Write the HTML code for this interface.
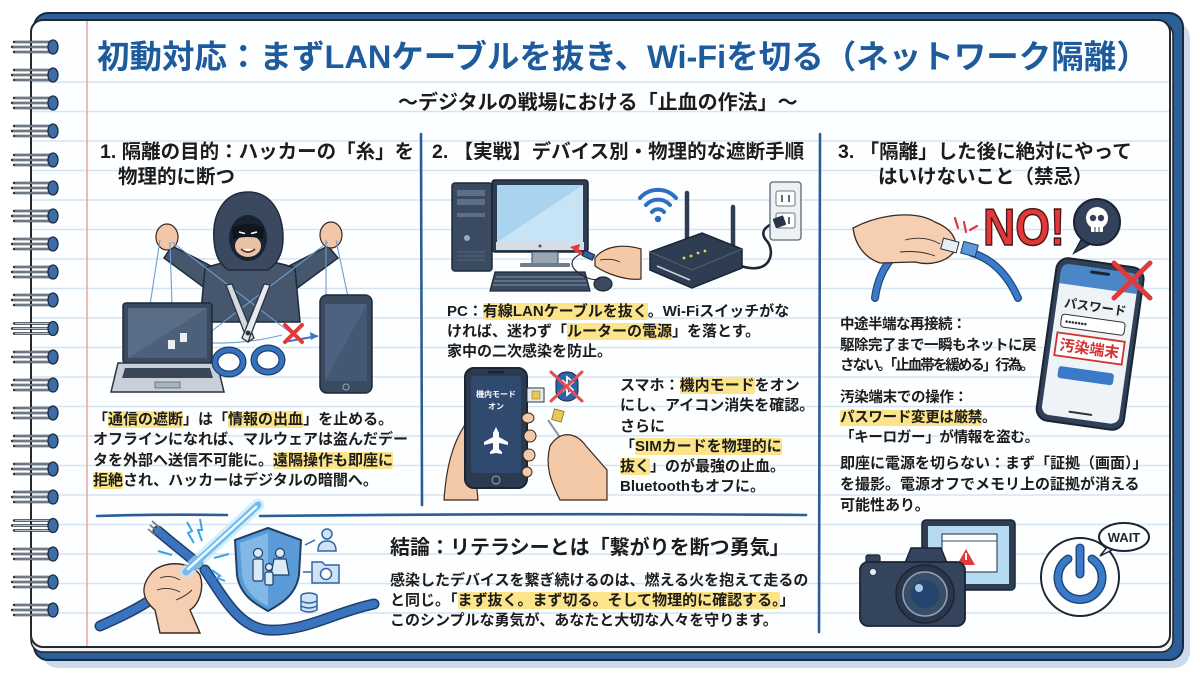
<!DOCTYPE html>
<html><head><meta charset="utf-8">
<style>
html,body{margin:0;padding:0;background:#fff;}
#w{position:relative;width:1200px;height:675px;overflow:hidden;background:#fff;}
svg{position:absolute;left:0;top:0;}
.t{position:absolute;white-space:nowrap;font-family:"Liberation Sans","Noto Sans CJK JP",sans-serif;font-weight:700;color:#1c1c1c;}
.h{background:#fbe48a;border-radius:2px;}
</style></head><body><div id="w">
<svg width="1200" height="675" viewBox="0 0 1200 675" xmlns="http://www.w3.org/2000/svg">
<defs>
 <g id="ring">
  <path d="M14 -5 H50 M12 0 H50 M14 5 H50" stroke="#2a3340" stroke-width="2.4" stroke-linecap="round" fill="none"/>
  <path d="M15 -5 H49 M13 0 H49 M15 5 H49" stroke="#b4bfcc" stroke-width="0.9" fill="none"/>
  <ellipse cx="53" cy="0" rx="5" ry="7" fill="#3d6ca6" stroke="#1c2b40" stroke-width="1.3"/>
 </g>
</defs>
<!-- frame -->
<rect x="42" y="22" width="1148" height="646" rx="16" fill="#cddbe9"/>
<rect x="34" y="13" width="1149" height="647" rx="14" fill="#2c5e98" stroke="#172a44" stroke-width="2"/>
<rect x="31" y="23" width="1142" height="629" rx="12" fill="#eef2f7" stroke="#222" stroke-width="1.5"/>
<rect x="31" y="20" width="1139" height="627" rx="12" fill="#fdfeff" stroke="#23272e" stroke-width="2"/>
<!-- ruled lines -->
<g stroke="#d5e4f1" stroke-width="1.5">
 <line x1="32" x2="1169" y1="82" y2="82"/><line x1="32" x2="1169" y1="111.5" y2="111.5"/>
 <line x1="32" x2="1169" y1="141" y2="141"/><line x1="32" x2="1169" y1="170.5" y2="170.5"/>
 <line x1="32" x2="1169" y1="200" y2="200"/><line x1="32" x2="1169" y1="229.5" y2="229.5"/>
 <line x1="32" x2="1169" y1="259" y2="259"/><line x1="32" x2="1169" y1="288.5" y2="288.5"/>
 <line x1="32" x2="1169" y1="318" y2="318"/><line x1="32" x2="1169" y1="347.5" y2="347.5"/>
 <line x1="32" x2="1169" y1="377" y2="377"/><line x1="32" x2="1169" y1="406.5" y2="406.5"/>
 <line x1="32" x2="1169" y1="436" y2="436"/><line x1="32" x2="1169" y1="465.5" y2="465.5"/>
 <line x1="32" x2="1169" y1="495" y2="495"/><line x1="32" x2="1169" y1="524.5" y2="524.5"/>
 <line x1="32" x2="1169" y1="554" y2="554"/><line x1="32" x2="1169" y1="583.5" y2="583.5"/>
 <line x1="32" x2="1169" y1="613" y2="613"/>
</g>
<line x1="87" y1="21" x2="87" y2="646" stroke="#eaa3a3" stroke-width="1.5"/>
<!-- rings -->
<use href="#ring" transform="translate(0,47)"/><use href="#ring" transform="translate(0,75)"/>
<use href="#ring" transform="translate(0,103)"/><use href="#ring" transform="translate(0,131)"/>
<use href="#ring" transform="translate(0,160)"/><use href="#ring" transform="translate(0,188)"/>
<use href="#ring" transform="translate(0,216)"/><use href="#ring" transform="translate(0,244)"/>
<use href="#ring" transform="translate(0,272)"/><use href="#ring" transform="translate(0,300)"/>
<use href="#ring" transform="translate(0,328.5)"/><use href="#ring" transform="translate(0,357)"/>
<use href="#ring" transform="translate(0,385)"/><use href="#ring" transform="translate(0,413)"/>
<use href="#ring" transform="translate(0,441)"/><use href="#ring" transform="translate(0,469)"/>
<use href="#ring" transform="translate(0,497)"/><use href="#ring" transform="translate(0,525.5)"/>
<use href="#ring" transform="translate(0,554)"/><use href="#ring" transform="translate(0,582)"/>
<use href="#ring" transform="translate(0,610)"/>

<!-- dividers -->
<g stroke="#2b5d96" stroke-width="2.6" fill="none" stroke-linecap="round">
 <path d="M421 134 Q422 320 422 505"/>
 <path d="M820 134 Q819 380 819 632"/>
 <path d="M97 516 Q160 514 227 515"/>
 <path d="M260 516 Q530 513 806 515"/>
</g>

<!-- ===== Section 1: hacker ===== -->
<path d="M215 268 L172 246 L164 258 L210 292 Z" fill="#46566d" stroke="#1f2a3a" stroke-width="1.5"/>
<path d="M285 268 L328 246 L338 258 L292 292 Z" fill="#46566d" stroke="#1f2a3a" stroke-width="1.5"/>
<path d="M205 268 Q250 252 295 268 L300 322 L200 322 Z" fill="#46566d" stroke="#1f2a3a" stroke-width="1.5"/>
<path d="M248 192 C224 192 212 214 214 240 C215 256 220 264 228 270 L268 270 C277 264 283 254 283 238 C283 214 272 192 248 192 Z" fill="#3a4860" stroke="#1f2a3a" stroke-width="1.5"/>
<ellipse cx="248" cy="238" rx="19" ry="23" fill="#1a2332"/>
<ellipse cx="248" cy="246" rx="13" ry="11" fill="#e8c2a4"/>
<path d="M232 227 Q248 221 264 227 L263 239 Q248 235 233 239 Z" fill="#10151f"/>
<path d="M239 232 l6 1.5 M251 233.5 l6 -1.5" stroke="#fff" stroke-width="1.6"/>
<path d="M241 249 Q248 255 255 249" stroke="#5a2a20" stroke-width="1.6" fill="#fff"/>
<ellipse cx="167" cy="237" rx="11" ry="13" fill="#f1c7a8" stroke="#3a2a20" stroke-width="1.2"/>
<ellipse cx="331" cy="235" rx="11" ry="13" fill="#f1c7a8" stroke="#3a2a20" stroke-width="1.2"/>
<g stroke="#6d9fd0" stroke-width="1.1" fill="none">
 <path d="M160 240 L150 305"/><path d="M170 242 L172 305"/>
 <path d="M172 242 L300 340"/><path d="M326 240 L326 297"/>
 <path d="M336 240 L348 297"/><path d="M328 242 L200 340"/>
 <path d="M190 342 Q240 346 282 335"/>
</g>
<!-- laptop -->
<rect x="123" y="303" width="89" height="60" rx="3" fill="#3a4a60" stroke="#1e2837" stroke-width="1.5"/>
<rect x="128" y="308" width="79" height="50" fill="#5a6d86"/>
<path d="M128 358 L207 308 L207 358 Z" fill="#4d607a"/>
<rect x="168" y="340" width="7" height="9" fill="#e8eef4"/><rect x="180" y="333" width="7" height="9" fill="#e8eef4"/>
<path d="M118 363 L217 363 L224 392 L111 392 Z" fill="#c8cfd8" stroke="#2a3340" stroke-width="1.5"/>
<path d="M125 368 L210 368 L213 378 L122 378 Z" fill="#3a4658"/>
<rect x="155" y="382" width="25" height="6" fill="#aab3bf" stroke="#5a6474" stroke-width="0.8"/>
<!-- phone -->
<rect x="320" y="295" width="52" height="98" rx="7" fill="#3a4a60" stroke="#1e2837" stroke-width="1.5"/>
<rect x="325" y="304" width="42" height="77" rx="2" fill="#4d6280"/>
<path d="M325 381 L367 304 L367 381 Z" fill="#445873"/>
<circle cx="346" cy="387" r="3" fill="none" stroke="#9aa8ba" stroke-width="1"/>
<!-- scissors -->
<path d="M226 285 L232 284 L254 338 L248 342 Z" fill="#d3d9e0" stroke="#2a3340" stroke-width="1.3"/>
<path d="M270 285 L264 284 L242 338 L248 342 Z" fill="#e6eaef" stroke="#2a3340" stroke-width="1.3"/>
<circle cx="248" cy="333" r="2.5" fill="#2a3340"/>
<ellipse cx="229" cy="362" rx="14" ry="12" fill="none" stroke="#1f3e6a" stroke-width="7"/>
<ellipse cx="229" cy="362" rx="14" ry="12" fill="none" stroke="#3572bd" stroke-width="4.5"/>
<ellipse cx="268" cy="360" rx="14" ry="12" fill="none" stroke="#1f3e6a" stroke-width="7"/>
<ellipse cx="268" cy="360" rx="14" ry="12" fill="none" stroke="#3572bd" stroke-width="4.5"/>
<path d="M284 342 L318 336" stroke="#3a78c2" stroke-width="2" fill="none"/>
<path d="M318 336 L310 332 L311 340 Z" fill="#3a78c2"/>
<path d="M285 325 L302 342 M302 325 L285 342" stroke="#e03a3a" stroke-width="4" stroke-linecap="round"/>

<!-- ===== Section 2: PC ===== -->
<rect x="452" y="183" width="40" height="88" rx="3" fill="#3a4a60" stroke="#1e2837" stroke-width="1.5"/>
<rect x="457" y="190" width="28" height="6" fill="#5d6e86"/><rect x="457" y="199" width="28" height="6" fill="#5d6e86"/>
<rect x="457" y="213" width="28" height="4" fill="#5d6e86"/><circle cx="467" cy="238" r="3" fill="#9aabc0"/>
<g stroke="#56677f" stroke-width="1"><line x1="457" y1="252" x2="485" y2="252"/><line x1="457" y1="256" x2="485" y2="256"/><line x1="457" y1="260" x2="485" y2="260"/></g>
<rect x="492" y="180" width="96" height="72" rx="3" fill="#2f3d52" stroke="#1a2433" stroke-width="1.5"/>
<rect x="497" y="185" width="86" height="57" fill="#a9d3ef"/>
<path d="M497 242 L583 185 L583 242 Z" fill="#c6e4f6"/>
<rect x="496" y="242" width="88" height="8" fill="#d6dde5"/><circle cx="540" cy="246" r="1.5" fill="#555"/>
<rect x="532" y="252" width="26" height="12" fill="#9aa5b2" stroke="#3a4658" stroke-width="1"/>
<rect x="520" y="263" width="50" height="4" rx="1" fill="#6f7c8c"/>
<path d="M495 272 L585 272 L590 291 L490 291 Z" fill="#3a4a60" stroke="#1e2837" stroke-width="1.2"/>
<g stroke="#8795a8" stroke-width="1"><line x1="496" y1="277" x2="584" y2="277"/><line x1="494" y1="281" x2="586" y2="281"/><line x1="493" y1="285" x2="587" y2="285"/></g>
<ellipse cx="603" cy="284" rx="9" ry="7" fill="#3a4a60" stroke="#1e2837" stroke-width="1.2"/>
<path d="M585 252 Q560 262 583 276 Q595 282 600 278" stroke="#1e2837" stroke-width="1.2" fill="none"/>
<path d="M590 258 L575 250" stroke="#e23b3b" stroke-width="3"/>
<path d="M570 247 L580 244 L578 253 Z" fill="#e23b3b"/>
<rect x="583" y="252" width="11" height="6" transform="rotate(25 588 255)" fill="#2f64a8" stroke="#1a2433" stroke-width="1"/>
<path d="M595 258 C605 245 625 244 641 249 L641 279 C625 281 605 273 595 266 Z" fill="#f4c9a8" stroke="#3a2a20" stroke-width="1.2"/>
<path d="M600 260 Q612 258 620 262" stroke="#3a2a20" stroke-width="0.8" fill="none"/>
<!-- wifi -->
<g stroke="#2e6fbf" stroke-width="4" fill="none" stroke-linecap="round">
 <path d="M652 212 A8 8 0 0 1 664 212"/>
 <path d="M646 205 A16 16 0 0 1 670 205"/>
 <path d="M640 198 A24 24 0 0 1 676 198"/>
</g>
<circle cx="658" cy="219" r="3.2" fill="#2e6fbf"/>
<!-- router -->
<line x1="687" y1="193" x2="687" y2="242" stroke="#2f3d52" stroke-width="4.5" stroke-linecap="round"/>
<line x1="733" y1="207" x2="733" y2="248" stroke="#2f3d52" stroke-width="4.5" stroke-linecap="round"/>
<path d="M650 252 L702 233 L742 249 L742 268 L692 288 L650 270 Z" fill="#2f3d52" stroke="#1a2433" stroke-width="1.5"/>
<path d="M650 252 L692 270 L742 249" stroke="#4d5e76" stroke-width="1.2" fill="none"/>
<path d="M657 266 L690 280" stroke="#c9d4e0" stroke-width="1.5"/>
<g fill="#f2d35a"><circle cx="684" cy="258" r="1.4"/><circle cx="691" cy="256" r="1.4"/><circle cx="698" cy="253" r="1.4"/><circle cx="705" cy="251" r="1.4"/></g>
<path d="M741 266 C772 276 776 250 766 240 C758 230 770 223 778 223" stroke="#1d2836" stroke-width="2.6" fill="none"/>
<rect x="770" y="182" width="31" height="58" rx="3" fill="#eef1f4" stroke="#5a6878" stroke-width="1.3"/>
<rect x="776" y="191" width="19" height="15" rx="2" fill="#fff" stroke="#6a7888"/>
<rect x="776" y="213" width="19" height="15" rx="2" fill="#fff" stroke="#6a7888"/>
<g stroke="#333" stroke-width="1.5"><line x1="782" y1="195" x2="782" y2="202"/><line x1="789" y1="195" x2="789" y2="202"/><line x1="782" y1="217" x2="782" y2="224"/><line x1="789" y1="217" x2="789" y2="224"/></g>
<rect x="774" y="217" width="11" height="10" rx="1" fill="#2a3648" transform="rotate(-20 779 222)"/>

<!-- ===== Section 2: smartphone ===== -->
<path d="M444 500 C446 470 452 440 470 418 L478 500 Z" fill="#f4c9a8" stroke="#3a2a20" stroke-width="1.2"/>
<rect x="465" y="368" width="62" height="120" rx="9" fill="#2c3a50" stroke="#1a2433" stroke-width="2"/>
<rect x="471" y="376" width="50" height="97" rx="4" fill="#2f4a6e"/>
<rect x="488" y="371" width="16" height="2.5" rx="1" fill="#1a2433"/>
<text x="496" y="397" font-size="8" fill="#fff" text-anchor="middle" font-family="Liberation Sans,Noto Sans CJK JP,sans-serif" font-weight="700">機内モード</text>
<text x="496" y="409" font-size="8" fill="#fff" text-anchor="middle" font-family="Liberation Sans,Noto Sans CJK JP,sans-serif" font-weight="700">オン</text>
<path d="M496 427 L499 433 L499 437 L508 442 L508 445 L499 443 L499 449 L502 452 L502 454 L496 453 L490 454 L490 452 L493 449 L493 443 L484 445 L484 442 L493 437 L493 433 Z" fill="#fff"/>
<circle cx="496" cy="480" r="4" fill="none" stroke="#8a9ab0" stroke-width="1.2"/>
<g fill="#f4c9a8" stroke="#3a2a20" stroke-width="1"><ellipse cx="528" cy="418" rx="6" ry="5"/><ellipse cx="530" cy="436" rx="6" ry="6"/><ellipse cx="529" cy="455" rx="6" ry="6"/><ellipse cx="527" cy="472" rx="5" ry="5"/></g>
<rect x="527" y="388" width="17" height="14" fill="#e8ecf0" stroke="#2a3340" stroke-width="1"/>
<rect x="532" y="391" width="8" height="8" fill="#e6c85a" stroke="#8a7020" stroke-width="0.6"/>
<rect x="556" y="372" width="22" height="29" rx="10" fill="#2b63b0" stroke="#1a2433" stroke-width="1"/>
<path d="M562 380 L573 390 L567 395 L567 377 L573 382 L562 392" stroke="#fff" stroke-width="1.8" fill="none"/>
<path d="M551 372 L582 401 M582 372 L551 401" stroke="#e05050" stroke-width="3" stroke-linecap="round"/>
<rect x="553" y="410" width="10" height="11" fill="#e6c85a" stroke="#8a7020" stroke-width="0.8" transform="rotate(15 558 415)"/>
<path d="M548 420 L566 446" stroke="#8a94a0" stroke-width="2"/>
<path d="M550 446 C560 430 576 432 586 446 L607 470 L607 500 L560 500 C550 480 545 465 550 446 Z" fill="#f4c9a8" stroke="#3a2a20" stroke-width="1.2"/>

<!-- ===== Section 3 ===== -->
<path d="M875 298 Q880 260 912 242 L948 247" stroke="#1f4a80" stroke-width="8" fill="none" stroke-linecap="round"/>
<path d="M875 298 Q880 260 912 242 L948 247" stroke="#3a7ac8" stroke-width="5.5" fill="none" stroke-linecap="round"/>
<path d="M853 228 C880 214 915 210 935 222 C950 228 958 238 955 250 C948 262 930 266 915 262 L880 263 C865 258 855 245 853 228 Z" fill="#f6cfb2" stroke="#3a2a20" stroke-width="1.3"/>
<path d="M905 240 Q925 235 940 244 M900 252 Q920 250 935 256" stroke="#3a2a20" stroke-width="0.9" fill="none"/>
<rect x="942" y="240" width="16" height="11" fill="#e8eef4" stroke="#2a3340" stroke-width="1" transform="rotate(15 950 245)"/>
<path d="M972 253 Q1002 262 1018 298" stroke="#1f4a80" stroke-width="8" fill="none" stroke-linecap="round"/>
<path d="M972 253 Q1002 262 1018 298" stroke="#3a7ac8" stroke-width="5.5" fill="none" stroke-linecap="round"/>
<rect x="962" y="243" width="15" height="12" fill="#5a9ad6" stroke="#1f3e6a" stroke-width="1" transform="rotate(15 969 249)"/>
<g stroke="#e03a3a" stroke-width="2.2" stroke-linecap="round"><line x1="955" y1="218" x2="958" y2="228"/><line x1="964" y1="222" x2="966" y2="232"/><line x1="970" y1="230" x2="977" y2="226"/></g>
<text x="983" y="245" font-size="52" font-weight="700" fill="#e2383a" stroke="#4a1515" stroke-width="1.5" textLength="82" lengthAdjust="spacingAndGlyphs" font-family="Liberation Sans,sans-serif">NO!</text>
<path d="M1082 238 L1074 253 L1092 243 Z" fill="#33425a" stroke="#1a2433" stroke-width="1.5"/>
<circle cx="1097" cy="222" r="23" fill="#33425a" stroke="#1a2433" stroke-width="2"/>
<circle cx="1097" cy="218" r="11" fill="#fff"/>
<rect x="1091" y="224" width="12" height="8" rx="1" fill="#fff"/>
<circle cx="1093" cy="218" r="3.2" fill="#33425a"/><circle cx="1101" cy="218" r="3.2" fill="#33425a"/>
<g stroke="#33425a" stroke-width="1"><line x1="1095" y1="227" x2="1095" y2="232"/><line x1="1099" y1="227" x2="1099" y2="232"/></g>
<g transform="rotate(8 1090 345)">
 <rect x="1046" y="262" width="88" height="164" rx="12" fill="#2f4058" stroke="#1a2433" stroke-width="2"/>
 <rect x="1051" y="268" width="78" height="152" rx="8" fill="#eef3f8"/>
 <path d="M1051 288 L1051 276 Q1051 268 1059 268 L1121 268 Q1129 268 1129 276 L1129 288 Z" fill="#4a86c8"/>
 <rect x="1080" y="271" width="20" height="3" rx="1.5" fill="#1a2433"/>
 <text x="1090" y="311" font-size="12.5" fill="#222" text-anchor="middle" font-family="Liberation Sans,Noto Sans CJK JP,sans-serif" font-weight="700">パスワード</text>
 <rect x="1058" y="318" width="64" height="13" rx="3" fill="#fff" stroke="#333" stroke-width="1"/>
 <text x="1062" y="328" font-size="9" fill="#333" font-family="Liberation Sans,sans-serif" font-weight="700">•••••••</text>
 <rect x="1056" y="337" width="68" height="23" fill="#fff" stroke="#d43030" stroke-width="1.8"/>
 <text x="1090" y="354" font-size="15" fill="#d43030" text-anchor="middle" font-family="Liberation Sans,Noto Sans CJK JP,sans-serif" font-weight="700">汚染端末</text>
 <rect x="1062" y="370" width="56" height="12" rx="3" fill="#3a7ac8"/>
 <rect x="1078" y="413" width="24" height="2" rx="1" fill="#333"/>
</g>
<path d="M1114 263 L1150 298 M1150 263 L1114 298" stroke="#e03a3a" stroke-width="5" stroke-linecap="round"/>
<!-- bottom right -->
<rect x="922" y="520" width="93" height="70" rx="4" fill="#2f3d52" stroke="#1a2433" stroke-width="1.5"/>
<rect x="928" y="526" width="81" height="58" fill="#b5daf2"/>
<rect x="942" y="534" width="55" height="38" fill="#fff" stroke="#3a4a60" stroke-width="1.2"/>
<line x1="942" y1="541" x2="997" y2="541" stroke="#3a4a60" stroke-width="1"/>
<path d="M966 549 L975 565 L957 565 Z" fill="#e03a3a"/>
<rect x="965" y="553" width="2" height="7" fill="#fff"/>
<path d="M905 563 L911 548 L941 548 L947 563 Z" fill="#34445c" stroke="#1a2433" stroke-width="1.5"/>
<rect x="866" y="555" width="14" height="8" rx="2" fill="#34445c" stroke="#1a2433" stroke-width="1.2"/>
<rect x="860" y="562" width="105" height="64" rx="8" fill="#34445c" stroke="#1a2433" stroke-width="1.8"/>
<circle cx="873" cy="572" r="3" fill="#e8eef4"/>
<circle cx="925" cy="594" r="29" fill="#2a374b" stroke="#1a2433" stroke-width="1.5"/>
<circle cx="925" cy="594" r="22" fill="#3a4d68" stroke="#8fa3b8" stroke-width="1.5"/>
<circle cx="925" cy="594" r="14" fill="#25446e"/>
<circle cx="919" cy="588" r="4" fill="#a8c8e8"/>
<circle cx="1080" cy="577" r="39" fill="#fff" stroke="#1a2433" stroke-width="2"/>
<path d="M1068 559 A22 22 0 1 0 1092 559" stroke="#1f4a80" stroke-width="9" fill="none" stroke-linecap="round"/>
<path d="M1068 559 A22 22 0 1 0 1092 559" stroke="#3a7ac8" stroke-width="6" fill="none" stroke-linecap="round"/>
<line x1="1080" y1="548" x2="1080" y2="574" stroke="#1f4a80" stroke-width="9" stroke-linecap="round"/>
<line x1="1080" y1="548" x2="1080" y2="574" stroke="#3a7ac8" stroke-width="6" stroke-linecap="round"/>
<path d="M1108 546 L1100 556 L1114 549 Z" fill="#fff" stroke="#1a2433" stroke-width="1.5"/>
<ellipse cx="1124" cy="537" rx="25" ry="14" fill="#fff" stroke="#1a2433" stroke-width="2"/>
<text x="1124" y="542" font-size="13" fill="#1a2433" text-anchor="middle" font-family="Liberation Sans,sans-serif" font-weight="700">WAIT</text>

<!-- ===== bottom-left illustration ===== -->
<g fill="none" stroke-linecap="round">
 <path d="M158 531 C172 543 185 553 198 564" stroke="#1f3e6a" stroke-width="11"/>
 <path d="M158 531 C172 543 185 553 198 564" stroke="#3a74bf" stroke-width="8"/>
 <path d="M100 626 C125 615 145 605 165 590" stroke="#1f3e6a" stroke-width="11"/>
 <path d="M100 626 C125 615 145 605 165 590" stroke="#3a74bf" stroke-width="8"/>
 <path d="M205 570 C225 600 240 628 268 630 C305 632 335 612 374 604" stroke="#1f3e6a" stroke-width="11"/>
 <path d="M205 570 C225 600 240 628 268 630 C305 632 335 612 374 604" stroke="#3a74bf" stroke-width="8"/>
</g>
<g stroke="#6a7888" stroke-width="1.6"><line x1="150" y1="525" x2="158" y2="532"/><line x1="152" y1="521" x2="161" y2="529"/><line x1="148" y1="529" x2="155" y2="535"/></g>
<path d="M150 575 C160 560 190 560 200 575 C205 590 198 605 190 610 L200 633 L160 633 L155 610 C143 600 140 588 150 575 Z" fill="#f6cfb2" stroke="#3a2a20" stroke-width="1.4"/>
<path d="M160 578 Q170 574 180 580 M157 590 Q168 586 180 592 M176 600 Q186 596 192 590" stroke="#3a2a20" stroke-width="0.9" fill="none"/>
<path d="M186 572 L258 505" stroke="#bfe6fb" stroke-width="13" stroke-linecap="round" opacity="0.6"/>
<path d="M186 572 L258 505" stroke="#6fbdf0" stroke-width="7" stroke-linecap="round"/>
<path d="M188 569 L256 507" stroke="#f2fbff" stroke-width="2.5" stroke-linecap="round"/>
<g stroke="#3ea2e6" stroke-width="2" fill="none">
 <path d="M187 522 l5 9 l-4 2 l6 10"/><path d="M200 519 l2 11 l-4 0 l4 11"/>
 <path d="M158 551 l14 4"/><path d="M214 558 l15 -4"/><path d="M212 570 l8 6 l-3 2 l8 3"/>
</g>
<path d="M268 528 L301 540 L299 575 C296 595 281 604 268 611 C255 604 240 595 237 575 L235 540 Z" fill="#5a9ad6" stroke="#1f3e6a" stroke-width="2"/>
<path d="M268 533 L240 543 L242 575 C245 592 257 601 268 606 Z" fill="#82b8e6"/>
<g fill="#dbeaf7" stroke="#1f3e6a" stroke-width="1.2">
 <circle cx="258" cy="553" r="4.5"/><rect x="253" y="559" width="10" height="22" rx="2"/>
 <circle cx="280" cy="553" r="4.5"/><path d="M274 559 L286 559 L289 575 L271 575 Z"/>
 <circle cx="269" cy="567" r="3.5"/><rect x="265" y="572" width="8" height="13" rx="2"/>
</g>
<g stroke="#2f64a8" stroke-width="1.5" fill="#cfe3f5">
 <line x1="305" y1="545" x2="315" y2="540"/><line x1="303" y1="572" x2="311" y2="572"/>
 <circle cx="327" cy="534" r="5"/><path d="M318 551 Q318 541 327 541 Q336 541 336 551 Z"/>
 <path d="M312 562 L322 562 L325 565 L339 565 L339 583 L312 583 Z"/>
 <circle cx="326" cy="574" r="5.5" fill="#fff"/>
 <ellipse cx="309" cy="596" rx="8" ry="3"/><path d="M301 596 L301 610 Q309 614 317 610 L317 596"/>
 <path d="M301 601 Q309 605 317 601 M301 606 Q309 610 317 606" fill="none"/>
</g>
</svg>

<div class="t" style="left:97px;top:36px;font-size:32.5px;line-height:42px;color:#1d5b9c">初動対応：まずLANケーブルを抜き、Wi-Fiを切る（ネットワーク隔離）</div>
<div class="t" style="left:398px;top:89px;font-size:20px;line-height:28px">〜デジタルの戦場における「止血の作法」〜</div>

<div class="t" style="left:100px;top:139px;font-size:19.5px;line-height:26px">1. 隔離の目的：ハッカーの「糸」を</div>
<div class="t" style="left:118px;top:164px;font-size:19.5px;line-height:26px">物理的に断つ</div>
<div class="t" style="left:432px;top:139px;font-size:19.5px;line-height:26px">2. 【実戦】デバイス別・物理的な遮断手順</div>
<div class="t" style="left:838px;top:139px;font-size:19.5px;line-height:26px">3. 「隔離」した後に絶対にやって</div>
<div class="t" style="left:878px;top:164px;font-size:19.5px;line-height:26px">はいけないこと（禁忌）</div>

<div class="t" style="left:93px;top:410px;font-size:15px;line-height:20.3px">「<span class="h">通信の遮断</span>」は「<span class="h">情報の出血</span>」を止める。<br>オフラインになれば、マルウェアは盗んだデー<br>タを外部へ送信不可能に。<span class="h">遠隔操作も即座に</span><br><span class="h">拒絶</span>され、ハッカーはデジタルの暗闇へ。</div>

<div class="t" style="left:447px;top:302px;font-size:15px;line-height:20px">PC：<span class="h">有線LANケーブルを抜く</span>。Wi-Fiスイッチがな<br>ければ、迷わず「<span class="h">ルーターの電源</span>」を落とす。<br>家中の二次感染を防止。</div>

<div class="t" style="left:620px;top:376px;font-size:15px;line-height:20.3px">スマホ：<span class="h">機内モード</span>をオン<br>にし、アイコン消失を確認。<br>さらに<br>「<span class="h">SIMカードを物理的に</span><br><span class="h">抜く</span>」のが最強の止血。<br>Bluetoothもオフに。</div>

<div class="t" style="left:840px;top:315px;font-size:14.5px;line-height:20.5px;letter-spacing:-0.5px">中途半端な再接続：<br>駆除完了まで一瞬もネットに戻<br><span style="letter-spacing:-2px">さない。「止血帯を緩める」行為。</span></div>
<div class="t" style="left:840px;top:388px;font-size:14.5px;line-height:20px;letter-spacing:-0.3px">汚染端末での操作：<br><span class="h">パスワード変更は厳禁</span>。<br>「キーロガー」が情報を盗む。</div>
<div class="t" style="left:840px;top:453px;font-size:15px;line-height:21px">即座に電源を切らない：まず「証拠（画面）」<br>を撮影。電源オフでメモリ上の証拠が消える<br>可能性あり。</div>

<div class="t" style="left:390px;top:534px;font-size:20px;line-height:28px">結論：リテラシーとは「繋がりを断つ勇気」</div>
<div class="t" style="left:390px;top:571px;font-size:15px;line-height:20px">感染したデバイスを繋ぎ続けるのは、燃える火を抱えて走るの<br>と同じ。「<span class="h">まず抜く。まず切る。そして物理的に確認する。</span>」<br>このシンプルな勇気が、あなたと大切な人々を守ります。</div>
</div></body></html>
